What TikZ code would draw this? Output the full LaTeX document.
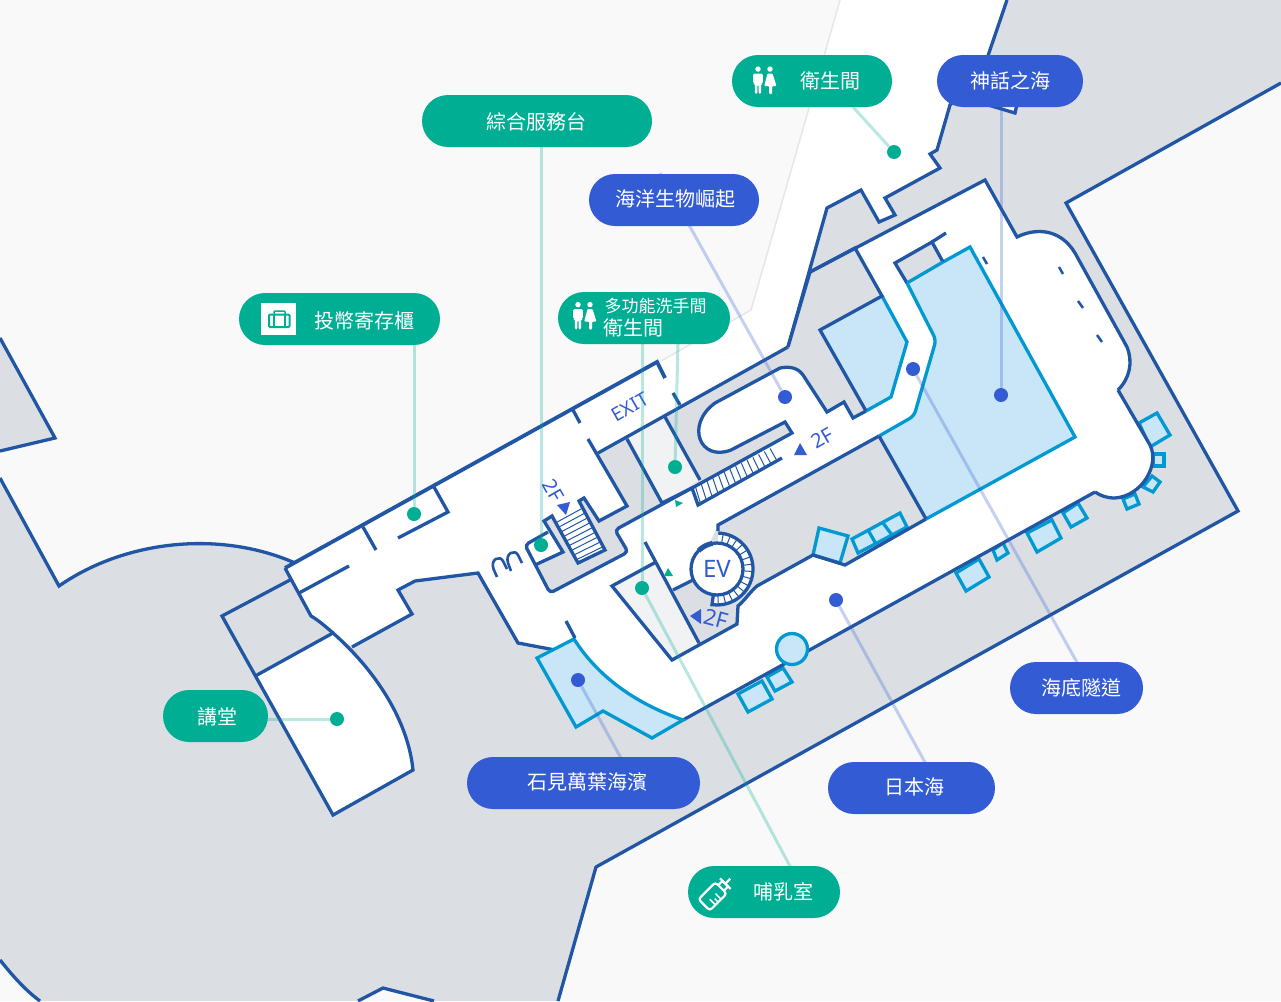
\documentclass[tikz,border=0pt]{standalone}
\usepackage{fontspec}
\setmainfont{Noto Sans}
\newfontfamily\cjkfont{Noto Sans CJK TC}
\usetikzlibrary{calc}
\definecolor{bgc}{HTML}{F9F9F9}
\definecolor{grayc}{HTML}{DBDFE3}
\definecolor{wallc}{HTML}{2156A5}
\definecolor{poolc}{HTML}{C9E5F8}
\definecolor{poole}{HTML}{0099D1}
\definecolor{tealc}{HTML}{00AE94}
\definecolor{bluec}{HTML}{335BD3}
\definecolor{roomc}{HTML}{F0F2F4}
\definecolor{fainc}{HTML}{E3E8E6}
\pgfdeclarelayer{map}
\pgfdeclarelayer{conn}
\pgfsetlayers{map,conn,main}
\tikzset{
  wall/.style={draw=wallc,line width=3.3pt,line join=miter},
  thinwall/.style={draw=wallc,line width=1pt},
  pool/.style={draw=poole,line width=3.3pt,fill=poolc},
  poolline/.style={draw=poole,line width=3.3pt},
  pill/.style={rounded corners=26pt,minimum height=52pt,inner sep=0pt},
  tealpill/.style={pill,fill=tealc},
  bluepill/.style={pill,fill=bluec},
  pilltext/.style={text=white,font=\cjkfont\fontsize{20}{20}\selectfont,inner sep=0pt},
  tealdot/.style={circle,fill=tealc,minimum size=14pt,inner sep=0pt},
  bluedot/.style={circle,fill=bluec,minimum size=14pt,inner sep=0pt},
  tealconn/.style={draw=tealc,opacity=.28,line width=3pt},
  blueconn/.style={draw=bluec,opacity=.28,line width=3pt},
  maptext/.style={text=bluec,inner sep=0pt},
  restroom/.pic={
    \fill[white] (-6,-12.4) circle (2.7) (6,-12.4) circle (2.7);
    \fill[white,rounded corners=1.5pt] (-11,-8) -- (-1.2,-8) -- (-1.2,2) -- (-3,2) -- (-3,12.5) -- (-5.5,12.5) -- (-5.5,3) -- (-6.7,3) -- (-6.7,12.5) -- (-9.2,12.5) -- (-9.2,2) -- (-11,2) -- cycle;
    \fill[white,rounded corners=1pt] (3.5,-8) -- (8.5,-8) -- (12.5,4.5) -- (8.2,4.5) -- (8.2,12.5) -- (5,12.5) -- (5,4.5) -- (0.2,4.5) -- cycle;
  }
}
\begin{document}
\begin{tikzpicture}[x=1pt,y=-1pt]
\useasboundingbox (0,0) rectangle (1281,1001);
\begin{pgfonlayer}{map}
\fill[bgc] (0,0) rectangle (1281,1001);
% grey building mass
\fill[grayc] (1007,0) -- (1281,0) -- (1281,83) -- (1066,203) -- (1238,511) -- (596,867) -- (558,1001) -- (434,1001) -- (383,988) -- (358,1001) -- (40,1001) .. controls (25,990) and (12,975) .. (0,960) -- (0,478) -- (59,586) .. controls (125,540) and (220,530) .. (295,563) -- (657,362) -- (788,347) -- (827,208) -- (900,100) -- cycle;
\fill[grayc] (0,338) -- (55,438) -- (0,451) -- cycle;
\draw[wall] (0,338) -- (55,438) -- (0,451);
\draw[wall] (1281,83) -- (1066,203) -- (1238,511) -- (596,867) -- (558,1001);
\draw[wall] (434,1001) -- (383,988) -- (358,1001);
\draw[wall] (0,478) -- (59,586) .. controls (125,540) and (220,530) .. (295,563);
\draw[wall] (0,960) .. controls (12,975) and (25,990) .. (40,1001);
% top white zone
\fill[white] (840,0) -- (1007,0) -- (978,85) -- (1018,100) -- (1015,113) -- (958,96) -- (950,105) -- (937,150) -- (930,154) -- (940,168) -- (885,198) -- (895,215) -- (879,222) -- (861,190) -- (827,208) -- (788,347) -- (657,362) -- (640,373) -- (751,310) -- cycle;
\draw[draw=fainc,line width=1.5pt] (840,0) -- (751,310) -- (640,373);
\draw[wall] (1007,0) -- (978,85) -- (1018,100) -- (1015,113) -- (958,96) -- (950,105) -- (937,150) -- (930,154) -- (940,168) -- (885,198) -- (895,215) -- (879,222) -- (861,190) -- (827,208) -- (788,347);
% floor
\fill[white] (285,568) -- (657,362) -- (788,347) -- (810,272) -- (855,248) -- (985,180) -- (1017,237) .. controls (1035,228) and (1060,228) .. (1075,253) -- (1127,347) .. controls (1133,362) and (1130,378) .. (1118,390) -- (1150,445) .. controls (1160,465) and (1142,496) .. (1115,498) .. controls (1107,498) and (1101,496) .. (1095,492) -- (683,720) -- (652,738) -- (603,711) -- (576,727) -- (537,658) -- (555,650) -- (518,643) -- (478,573) -- (415,581) -- (398,590) -- (412,614) -- (352,647) -- (333,633) .. controls (325,626) and (318,620) .. (311,616) -- cycle;
% grey west wing and auditorium
\fill[grayc] (222,616) -- (290,580) -- (311,616) .. controls (318,620) and (325,626) .. (333,633) -- (257,675) -- cycle;
\fill[white] (257,675) -- (333,633) .. controls (375,670) and (408,720) .. (413,770) -- (333,815) -- cycle;
\draw[wall] (290,580) -- (222,616) -- (333,815) -- (413,770) .. controls (408,720) and (375,670) .. (333,633) -- (257,675);
\draw[wall] (285,568) -- (311,616) .. controls (318,620) and (325,626) .. (333,633);
\draw[wall] (352,647) -- (412,614) -- (398,590) -- (415,581) -- (478,573) -- (518,643) -- (555,650);
\draw[wall] (299,593) -- (349,566);
\draw[wall] (363,527) -- (376,550);
\draw[wall] (434,487) -- (448,512) -- (398,538);
\draw[wall,line width=3.8pt] (285,568) -- (657,362) -- (665,378);
\draw[wall] (673,393) -- (680,405);
\draw[wall] (573,410) -- (580,423);
% central grey mass
\fill[grayc] (598,453) -- (627,506) -- (599,521) -- (584,498) -- (579,501) -- (605,550) -- (578,563) -- (552,516) -- (544,521) -- (563,552) -- (535,565) -- (550,593) -- (628,552) -- (615,530) -- (692,488) -- (792,433) -- (785,422) -- (731,450) .. controls (700,462) and (685,425) .. (715,403) -- (780,368) .. controls (790,366) and (798,368) .. (803,375) -- (827,412) -- (844,402) -- (853,418) -- (866,411) -- (820,330) -- (882,296) -- (855,248) -- (810,272) -- (788,347) -- cycle;
\fill[white] (552,517) -- (579,502) -- (605,550) -- (578,563) -- cycle;
\foreach \t in {.13,.23,...,.95} {\draw[thinwall] ($(552,517)!\t!(578,563)$) -- ($(579,502)!\t!(605,550)$);}
\fill[white] (693,488) -- (775,448) -- (782,458) -- (698,505) -- cycle;
\foreach \t in {.03,.1,...,.99} {\draw[thinwall] ($(693,488)!\t!(775,446)$) -- ($(698,505)!\t!(782,458)$);}
% accessible WC room
\fill[roomc] (627,439) -- (665,417) -- (700,480) -- (662,503) -- cycle;
\draw[wall] (627,439) -- (662,503);
\draw[wall] (665,417) -- (700,480);
% walls of the central mass
\draw[wall] (588,439) -- (627,506) -- (599,521) -- (584,498) -- (579,501) -- (605,550) -- (578,563) -- (552,516) -- (544,521) -- (563,552) -- (535,565);
\draw[wall] (788,347) -- (598,453);
\draw[wall,rounded corners=4pt] (548,532) -- (525,545) -- (550,593) -- (628,552) -- (615,530) -- (692,488);
\draw[wall] (662,503) -- (692,488) -- (698,505) -- (782,458);
\draw[wall] (692,488) -- (792,433) -- (785,422) -- (731,450) .. controls (700,462) and (685,425) .. (715,403) -- (780,368) .. controls (790,366) and (798,368) .. (803,375) -- (827,412) -- (844,402) -- (853,418) -- (866,411);
\draw[wall] (788,347) -- (810,272) -- (985,180) -- (1017,237) .. controls (1035,228) and (1060,228) .. (1075,253) -- (1127,347) .. controls (1133,362) and (1130,378) .. (1118,390);
% small side pool squares (under the walls)
\filldraw[pool] (1139,423) -- (1157,413) -- (1170,435) -- (1150,447) -- cycle;
\filldraw[pool] (1153,454) -- (1164,454) -- (1164,466) -- (1153,466) -- cycle;
\filldraw[pool] (1143,487) -- (1152,476) -- (1160,482) -- (1153,492) -- cycle;
\filldraw[pool] (1123,499) -- (1135,494) -- (1139,504) -- (1127,509) -- cycle;
\filldraw[pool] (1063,513) -- (1078,503) -- (1087,518) -- (1071,527) -- cycle;
\filldraw[pool] (1027,533) -- (1052,520) -- (1061,538) -- (1037,552) -- cycle;
\filldraw[pool] (993,550) -- (1003,543) -- (1008,553) -- (997,560) -- cycle;
\filldraw[pool] (956,573) -- (979,559) -- (989,577) -- (966,591) -- cycle;
\filldraw[pool] (767,677) -- (783,668) -- (792,682) -- (775,691) -- cycle;
\filldraw[pool] (738,694) -- (762,681) -- (772,699) -- (748,712) -- cycle;
\fill[white] (1118,390) -- (1150,445) .. controls (1160,465) and (1142,496) .. (1115,498) .. controls (1107,498) and (1101,496) .. (1095,492) -- cycle;
\fill[white] (1095,492) -- (683,720) -- (800,620) -- cycle;
\draw[wall] (1095,492) -- (683,720);
\draw[wall] (1118,390) -- (1150,445) .. controls (1160,465) and (1142,496) .. (1115,498) .. controls (1107,498) and (1101,496) .. (1095,492);
% lower grey island
\fill[grayc] (718,525) -- (879,436) -- (926,519) -- (845,565) -- (813,555) -- (757,586) .. controls (750,592) and (745,600) .. (738,606) -- (737,624) -- (699,643) -- (673,590) -- (693,580) -- cycle;
\fill[roomc] (612,586) -- (656,562) -- (699,643) -- (672,660) -- cycle;
\filldraw[pool] (819,528) -- (848,536) -- (840,563) -- (813,555) -- cycle;
\filldraw[pool] (852,539) -- (900,513) -- (907,527) -- (858,553) -- cycle;
\draw[poolline] (868,530) -- (876,544) (883,523) -- (892,535);
\draw[wall] (718,531) -- (718,525) -- (879,436);
\draw[wall] (926,519) -- (845,565) -- (813,555) -- (757,586) .. controls (750,592) and (745,600) .. (738,606) -- (737,624) -- (672,660) -- (612,586) -- (656,562);
\draw[wall] (645,542) -- (699,643);
\draw[wall] (673,590) -- (693,580);
% EV and spiral stair
\begin{scope}[shift={(717,569)},yscale=-1]
\fill[white] (0,0) -- (88:36) arc (88:-98:36) -- cycle;
\foreach \a in {80,68,...,-92} {\draw[thinwall] (\a:26) -- (\a:36);}
\draw[wall] (88:36) arc (88:-98:36) -- (-98:25);
\draw[wall,fill=white] (0,0) circle (26);
\draw[wall,line width=5pt] (100:26) arc (100:135:26);
\end{scope}
% big pool
\fill[poolc] (907,283) -- (970,247) -- (1075,437) -- (926,519) -- (879,436) -- (913,415) -- (936,340) -- cycle;
\draw[poolline] (943,262) -- (970,247) -- (1075,437) -- (926,519);
\draw[poolline,rounded corners=5pt] (879,436) -- (914,416) -- (936,340) -- (907,283);
\draw[wall] (879,436) -- (926,519);
\fill[grayc] (895,263) -- (932,242) -- (943,262) -- (907,283) -- cycle;
\draw[wall] (907,283) -- (895,263) -- (932,242) -- (943,262);
\draw[wall] (932,242) -- (946,233);
\draw[poolline] (907,283) -- (943,262);
% small pool
\fill[poolc] (820,330) -- (882,296) -- (907,342) -- (891,397) -- (866,411) -- cycle;
\draw[poolline] (882,296) -- (907,342) -- (891,397) -- (866,411);
\draw[wall] (866,411) -- (820,330) -- (882,296) -- (855,248) -- (810,272);
% ticks
\draw[wall,line width=2.5pt] (983,257) -- (987,264) (1059,267) -- (1063,274) (1078,301) -- (1083,308) (1097,335) -- (1102,342);
% south-west pool
\fill[poolc] (537,658) -- (574,639) .. controls (600,680) and (640,705) .. (683,720) -- (652,738) -- (603,711) -- (576,727) -- cycle;
\draw[poolline] (574,639) .. controls (600,680) and (640,705) .. (683,720) -- (652,738) -- (603,711) -- (576,727) -- (537,658) -- cycle;
\draw[wall] (566,621) -- (575,638);
% round pool
\filldraw[pool] (792,649) circle (15.5);
% door arcs
\draw[wall,line width=2.6pt] (497,577) -- (493.5,569) .. controls (490,559) and (500,555) .. (503,561) -- (507,569);
\draw[wall,line width=2.6pt] (511,571) -- (508,563) .. controls (505,553) and (515,549) .. (518,555) -- (522,563);
% floor glyphs
\node[maptext,rotate=30,font=\fontsize{19}{19}\selectfont] (exitlabel) at (630,407) {EXIT};
\node[maptext,rotate=-60,font=\fontsize{20}{20}\selectfont] (up2fa) at (553,490) {2F};
\node[maptext,rotate=30,font=\fontsize{20}{20}\selectfont] (up2fb) at (822,438) {2F};
\node[maptext,rotate=-15,font=\fontsize{22}{22}\selectfont] (up2fc) at (716,619) {2F};
\node[maptext,font=\fontsize{24}{24}\selectfont] (evlabel) at (717,569) {EV};
\fill[bluec] (557,505) -- (570,502) -- (566,515) -- cycle;
\fill[bluec] (794,455) -- (807,455) -- (800,443) -- cycle;
\fill[bluec] (690,616) -- (701,609) -- (701,624) -- cycle;
\fill[tealc] (675,500) -- (683,503) -- (676,507) -- cycle;
\fill[tealc] (664,576) -- (673,576) -- (668,568) -- cycle;
\end{pgfonlayer}
% pills
\node[tealpill,minimum width=230pt] (pzonghe) at (537,121) {};
\node[pilltext] (tzonghe) at (536,122) {綜合服務台};
\node[tealpill,minimum width=160pt] (pwc) at (812,81) {};
\node[pilltext] (twc) at (830,81) {衛生間};
\node[bluepill,minimum width=146pt] (pshenhua) at (1010,81) {};
\node[pilltext] (tshenhua) at (1010,81) {神話之海};
\node[bluepill,minimum width=170pt] (phaiyang) at (674,200) {};
\node[pilltext] (thaiyang) at (675,199) {海洋生物崛起};
\node[tealpill,minimum width=201pt] (plocker) at (339.5,319) {};
\node[pilltext] (tlocker) at (364,321) {投幣寄存櫃};
\node[tealpill,minimum width=172pt] (pmulti) at (644,318) {};
\node[pilltext,font=\cjkfont\fontsize{17}{17}\selectfont] (tmultia) at (655.5,306) {多功能洗手間};
\node[pilltext] (tmultib) at (633,328) {衛生間};
\node[tealpill,minimum width=105pt] (phall) at (215.5,716) {};
\node[pilltext] (thall) at (217,717) {講堂};
\node[bluepill,minimum width=233pt] (pshijian) at (583.5,783) {};
\node[pilltext] (tshijian) at (587,782) {石見萬葉海濱};
\node[bluepill,minimum width=167pt] (pjapan) at (911.5,788) {};
\node[pilltext] (tjapan) at (914.5,787) {日本海};
\node[bluepill,minimum width=133pt] (ptunnel) at (1076.5,688) {};
\node[pilltext] (ttunnel) at (1081,688) {海底隧道};
\node[tealpill,minimum width=152pt] (pnurse) at (764,892) {};
\node[pilltext] (tnurse) at (783,892) {哺乳室};
% icons
\pic at (764,81.5) {restroom};
\pic at (584,317) {restroom};
\fill[white] (261,303) rectangle (296,335);
\draw[tealc,line width=2pt,rounded corners=1pt] (269,314.5) rectangle (289.5,327);
\draw[tealc,line width=2pt] (274,314) -- (274,327) (285,314) -- (285,327);
\draw[tealc,line width=1.5pt,rounded corners=1pt] (274,314) -- (274,311) -- (285,311) -- (285,314);
\begin{scope}[shift={(714,895)},rotate=45]
\draw[white,line width=2.2pt,rounded corners=3pt] (-14,-8) rectangle (10,8);
\draw[white,line width=2.2pt] (10,-4) -- (16,-4) -- (16,4) -- (10,4);
\draw[white,line width=2.2pt] (16,-7.5) -- (16,7.5);
\draw[white,line width=2.2pt] (16,0) -- (23,0);
\draw[white,line width=1.5pt] (-6,0) -- (-6,8) (-2,3) -- (-2,8) (2,0) -- (2,8);
\end{scope}
% dots
\node[tealdot] (dwc) at (894,152) {};
\node[tealdot] (dlocker) at (414,514) {};
\node[tealdot] (dzonghe) at (541,545) {};
\node[tealdot] (dmultia) at (675,467) {};
\node[tealdot] (dmultib) at (642,588) {};
\node[tealdot] (dhall) at (337,719) {};
\node[bluedot] (dhaiyang) at (785,397) {};
\node[bluedot] (dtunnel) at (913,369) {};
\node[bluedot] (dshenhua) at (1001,395) {};
\node[bluedot] (djapan) at (836,600) {};
\node[bluedot] (dshijian) at (578,680) {};
% connector free ends (hidden behind pills)
\coordinate (cwc) at (853,107);
\coordinate (cmulti) at (678,340);
\coordinate (cnurse) at (792,870);
\coordinate (chaiyang) at (660,173);
\coordinate (ctunnel) at (1079,666);
\coordinate (cjapan) at (927,766);
\coordinate (cshijian) at (622,760);
\begin{pgfonlayer}{conn}
\draw[tealconn] (cwc) -- (dwc);
\draw[tealconn] (dzonghe |- pzonghe.south) -- (dzonghe);
\draw[tealconn] (dlocker |- plocker.south) -- (dlocker);
\draw[tealconn] (cmulti) -- (dmultia);
\draw[tealconn] (dmultib |- pmulti.south) -- (dmultib);
\draw[tealconn] (dhall -| phall.east) -- (dhall);
\draw[tealconn] (dmultib) -- (cnurse);
\draw[blueconn] (chaiyang) -- (dhaiyang);
\draw[blueconn] (ctunnel) -- (dtunnel);
\draw[blueconn] (dshenhua |- pshenhua.south) -- (dshenhua);
\draw[blueconn] (cjapan) -- (djapan);
\draw[blueconn] (cshijian) -- (dshijian);
\end{pgfonlayer}
\end{tikzpicture}
\end{document}
